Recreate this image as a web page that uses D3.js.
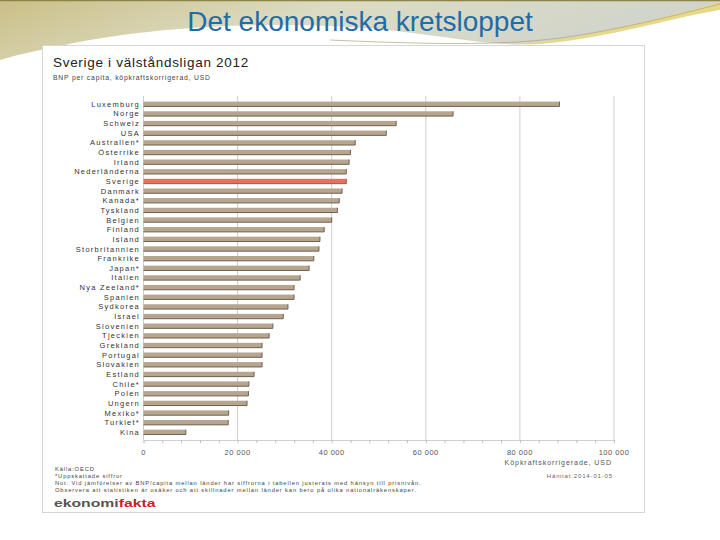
<!DOCTYPE html>
<html lang="sv">
<head>
    <meta charset="UTF-8">
    <title>Det ekonomiska kretsloppet</title>
    <script src="https://cdnjs.cloudflare.com/ajax/libs/d3/7.8.2/d3.min.js"></script>
    <style>
        body {
            margin: 0;
            padding: 0;
            background-color: #ffffff;
        }
        svg {
            display: block;
        }
        text {
            font-family: "Liberation Sans", Arial, sans-serif;
        }
    </style>
</head>
<body>
    <svg width="720" height="540"></svg>

    <script>
        // data: BNP per capita 2012, köpkraftskorrigerad, USD
        const countries = ["Luxemburg", "Norge", "Schweiz", "USA", "Australien*", "Österrike", "Irland",
            "Nederländerna", "Sverige", "Danmark", "Kanada*", "Tyskland", "Belgien", "Finland", "Island",
            "Storbritannien", "Frankrike", "Japan*", "Italien", "Nya Zeeland*", "Spanien", "Sydkorea",
            "Israel", "Slovenien", "Tjeckien", "Grekland", "Portugal", "Slovakien", "Estland", "Chile*",
            "Polen", "Ungern", "Mexiko*", "Turkiet*", "Kina"];
        const values = [88400, 65800, 53700, 51600, 45000, 44000, 43700,
            43100, 43100, 42200, 41600, 41200, 40000, 38400, 37500,
            37300, 36200, 35200, 33300, 32000, 32000, 30700,
            29700, 27500, 26700, 25200, 25200, 25200, 23500, 22400,
            22300, 22000, 18100, 18000, 9000];
        const highlight = "Sverige";
        const xTicks = [0, 20000, 40000, 60000, 80000, 100000];

        const svg = d3.select("svg");

        // slide background
        const defs = svg.append("defs");
        const grad = defs.append("linearGradient").attr("id", "topgrad")
            .attr("x1", 0).attr("y1", 0).attr("x2", 1).attr("y2", 0.3);
        grad.append("stop").attr("offset", "0%").attr("stop-color", "#cbbf86");
        grad.append("stop").attr("offset", "45%").attr("stop-color", "#dcdcc4");
        grad.append("stop").attr("offset", "100%").attr("stop-color", "#cfd3cc");

        svg.append("rect").attr("width", 720).attr("height", 540).attr("fill", "#ffffff");
        svg.append("rect").attr("width", 720).attr("height", 70).attr("fill", "url(#topgrad)");
        svg.append("path")
            .attr("d", "M300,60 C420,52 520,48 580,36 C640,24 690,10 720,2 L720,30 C660,40 600,52 520,56 Z")
            .attr("fill", "#e6d98c");
        svg.append("path")
            .attr("d", "M0,70 L0,60 C20,54 40,50 60,46 C130,30 230,22 330,26 C430,30 480,48 540,44 C610,38 670,18 720,10 L720,70 Z")
            .attr("fill", "#ffffff");
        svg.append("path")
            .attr("d", "M330,40 C420,44 500,46 560,38 C620,30 680,14 720,4")
            .attr("fill", "none").attr("stroke", "#b0a27a").attr("stroke-width", 0.7);
        svg.append("line").attr("x1", 0).attr("x2", 720).attr("y1", 0.5).attr("y2", 0.5)
            .attr("stroke", "#8c8448").attr("stroke-width", 1.5);

        svg.append("text")
            .attr("x", 360).attr("y", 31)
            .attr("text-anchor", "middle")
            .attr("font-size", 28)
            .attr("fill", "#1f6ca8")
            .text("Det ekonomiska kretsloppet");

        // chart panel
        svg.append("rect")
            .attr("x", 42.5).attr("y", 45.5).attr("width", 602).attr("height", 467)
            .attr("fill", "#ffffff").attr("stroke", "#d6d6d6");

        svg.append("text")
            .attr("x", 53).attr("y", 67)
            .attr("font-size", 13.5).attr("fill", "#222")
            .attr("letter-spacing", 0.7)
            .text("Sverige i välståndsligan 2012");
        svg.append("text")
            .attr("x", 53).attr("y", 80)
            .attr("font-size", 6.8).attr("fill", "#444")
            .attr("letter-spacing", 0.8)
            .text("BNP per capita, köpkraftskorrigerad, USD");

        const x = d3.scaleLinear().domain([0, 100000]).range([143.5, 614]);
        const y = d3.scaleBand().domain(countries).range([99.2, 436.9])
            .paddingInner(0.5).paddingOuter(0.25);

        const gridTop = 96, gridBottom = 440;

        // gridlines
        svg.append("g")
            .selectAll("line")
            .data(xTicks)
            .enter().append("line")
            .attr("x1", d => x(d)).attr("x2", d => x(d))
            .attr("y1", gridTop).attr("y2", gridBottom)
            .attr("stroke", "#cfcfcf").attr("stroke-width", 1);

        // x axis
        const axis = svg.append("g")
            .attr("transform", `translate(0,${gridBottom})`)
            .call(d3.axisBottom(x).tickValues(d3.range(0, 100001, 4000)).tickSize(3).tickFormat(""));
        axis.select(".domain").attr("stroke", "#cfcfcf");
        axis.selectAll(".tick line").attr("stroke", "#bdbdbd");

        svg.append("g")
            .selectAll("text")
            .data(xTicks)
            .enter().append("text")
            .attr("x", d => x(d)).attr("y", 455)
            .attr("text-anchor", "middle")
            .attr("font-size", 7.5).attr("fill", "#555")
            .attr("letter-spacing", 0.5)
            .text(d => d3.format(",")(d).replace(/,/g, " "));

        // bars
        const bars = svg.append("g")
            .selectAll("g")
            .data(countries)
            .enter().append("g");

        bars.append("rect")
            .attr("x", x(0))
            .attr("y", d => y(d))
            .attr("width", (d, i) => x(values[i]) - x(0))
            .attr("height", y.bandwidth())
            .attr("fill", d => d === highlight ? "#e2735e" : "#b6a68f");

        bars.append("path")
            .attr("d", (d, i) => {
                const x1 = x(values[i]), y0 = y(d), y1 = y(d) + y.bandwidth();
                return `M${x(0)},${y1} L${x1},${y1} L${x1},${y0}`;
            })
            .attr("fill", "none")
            .attr("stroke", d => d === highlight ? "#b2503e" : "#6e6150")
            .attr("stroke-width", 1);

        // country labels
        svg.append("g")
            .selectAll("text")
            .data(countries)
            .enter().append("text")
            .attr("x", 140)
            .attr("y", d => y(d) + y.bandwidth() / 2 + 2.8)
            .attr("text-anchor", "end")
            .attr("font-size", 7.5).attr("fill", "#333")
            .attr("letter-spacing", 1.25)
            .text(d => d);

        // notes
        svg.append("text")
            .attr("x", 612).attr("y", 465).attr("text-anchor", "end")
            .attr("font-size", 7).attr("fill", "#555").attr("letter-spacing", 0.95)
            .text("Köpkraftskorrigerade, USD");
        svg.append("text")
            .attr("x", 613).attr("y", 478).attr("text-anchor", "end")
            .attr("font-size", 6).attr("fill", "#666").attr("letter-spacing", 0.85)
            .text("Hämtat:2014-01-05");

        const notes = [
            "Källa:OECD",
            "*Uppskattade siffror",
            "Not: Vid jämförelser av BNP/capita mellan länder har siffrorna i tabellen justerats med hänsyn till prisnivån.",
            "Observera att statistiken är osäker och att skillnader mellan länder kan bero på olika nationalräkenskaper."
        ];
        svg.append("g")
            .selectAll("text")
            .data(notes)
            .enter().append("text")
            .attr("x", 55)
            .attr("y", (d, i) => 471 + i * 7)
            .attr("font-size", 5.8).attr("fill", "#444")
            .attr("letter-spacing", 0.85)
            .text(d => d);

        const logo = svg.append("text")
            .attr("transform", "translate(54,507) scale(1.5,1)")
            .attr("font-size", 10.5).attr("font-weight", "bold");
        logo.append("tspan").attr("fill", "#555").text("ekonomi");
        logo.append("tspan").attr("fill", "#c8202c").text("fakta");
    </script>
</body>
</html>
